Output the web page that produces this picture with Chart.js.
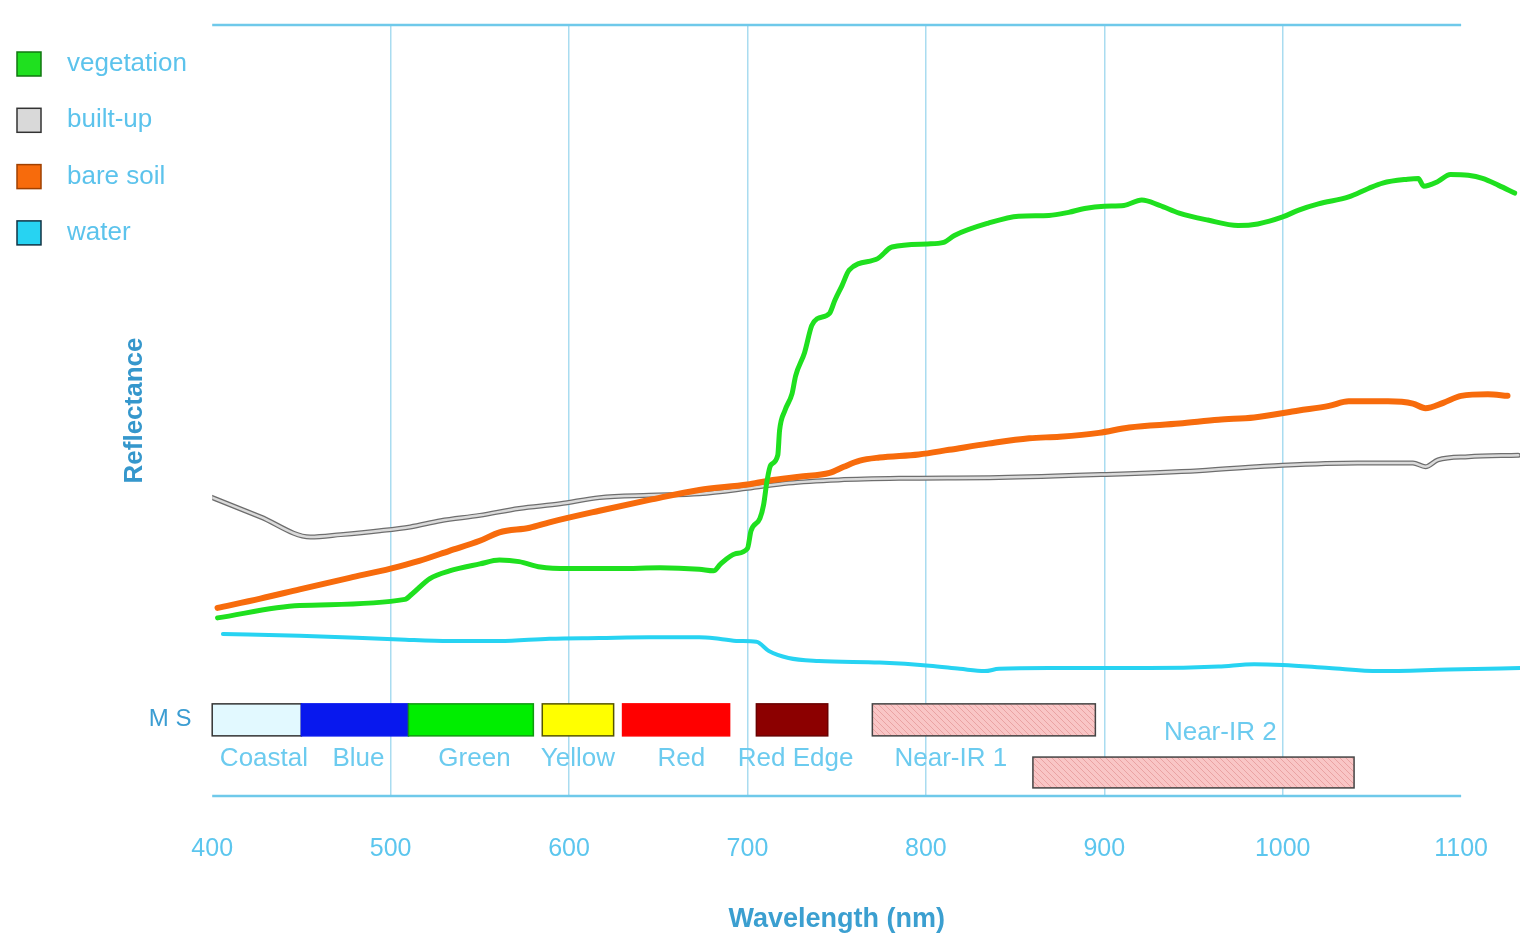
<!DOCTYPE html>
<html lang="en">
<head>
  <meta charset="UTF-8" />
  <title>Spectral reflectance and MS bands</title>
  <style>
    html, body { margin: 0; padding: 0; background: #ffffff; overflow: hidden; }
    #wrap { width: 1526px; height: 936px; position: relative; }
  </style>
</head>
<body>
  <div id="wrap"><canvas id="chart"></canvas></div>

  <script src="https://cdn.jsdelivr.net/npm/chart.js"></script>
  <script>
    // wavelength ticks (nm)
    const xTicks = [400, 500, 600, 700, 800, 900, 1000, 1100];

    // curves: wavelength (nm) and reflectance (relative, 0-100)
    const vegNm = [403, 449, 508, 512, 522, 533, 550, 561, 572, 584, 600, 628, 651, 673, 681, 685, 693, 700, 702, 707,
      709, 711, 713, 717, 718, 721, 725, 727, 732, 736, 739, 746, 749, 753, 757, 773, 781, 801, 810, 816,
      835, 852, 869, 880, 889, 900, 911, 921, 931, 942, 958, 975, 986, 1000, 1009, 1020, 1037, 1048, 1056, 1070,
      1076, 1079, 1087, 1094, 1104, 1112, 1121, 1130];
    const vegVal = [23.1, 24.7, 25.5, 26.2, 28.2, 29.2, 30.1, 30.6, 30.4, 29.7, 29.5, 29.5, 29.6, 29.4, 29.2, 30.1, 31.4, 32.1, 34.4, 36.0,
      37.7, 40.9, 42.9, 44.2, 47.4, 50.0, 52.2, 54.5, 57.5, 61.0, 61.9, 62.6, 64.3, 66.2, 68.2, 69.7, 71.2, 71.6, 71.8, 72.7,
      74.3, 75.2, 75.3, 75.7, 76.2, 76.5, 76.6, 77.3, 76.6, 75.6, 74.7, 74.0, 74.2, 75.1, 76.0, 76.8, 77.7, 78.8, 79.5, 80.0,
      80.1, 79.1, 79.7, 80.6, 80.5, 80.1, 79.2, 78.2];

    const builtNm = [399, 427, 455, 472, 494, 511, 528, 550, 572, 595, 617, 645, 673, 700, 723, 751, 785, 841, 900, 953,
      1000, 1042, 1073, 1080, 1087, 1104, 1132];
    const builtVal = [38.8, 36.2, 33.6, 33.9, 34.4, 34.9, 35.7, 36.4, 37.3, 37.9, 38.7, 39.0, 39.2, 39.9, 40.6, 41.0, 41.2, 41.3, 41.7, 42.2,
      42.9, 43.2, 43.2, 42.7, 43.6, 44.0, 44.2];

    const soilNm = [403, 427, 449, 477, 500, 516, 533, 550, 561, 578, 589, 617, 645, 673, 700, 712, 729, 746, 754, 763,
      774, 796, 813, 835, 858, 875, 897, 914, 942, 964, 984, 1009, 1026, 1037, 1059, 1073, 1080, 1090, 1100, 1115, 1126];
    const soilVal = [24.4, 25.6, 26.8, 28.3, 29.5, 30.5, 31.8, 33.1, 34.2, 34.8, 35.5, 37.0, 38.4, 39.7, 40.4, 40.9, 41.4, 41.9, 42.7, 43.5,
      43.9, 44.3, 44.9, 45.7, 46.4, 46.6, 47.1, 47.8, 48.3, 48.8, 49.1, 50.0, 50.6, 51.2, 51.2, 50.9, 50.3, 51.0, 51.9, 52.1, 51.9];

    const waterNm = [406, 449, 505, 533, 561, 589, 617, 645, 673, 684, 695, 705, 712, 723, 740, 774, 802, 819, 833, 841,
      869, 925, 964, 984, 1000, 1026, 1054, 1093, 1135];
    const waterVal = [21.0, 20.8, 20.3, 20.1, 20.1, 20.4, 20.5, 20.6, 20.6, 20.4, 20.1, 20.0, 18.8, 17.9, 17.5, 17.3, 16.9, 16.5, 16.2, 16.5,
      16.6, 16.6, 16.8, 17.1, 17.0, 16.6, 16.2, 16.4, 16.6];

    // MS bands (nm)
    const bandNames = ['Coastal', 'Blue', 'Green', 'Yellow', 'Red', 'Red Edge', 'Near-IR 1', 'Near-IR 2'];
    const bandStart = [400, 450, 510, 585, 630, 705, 770, 860];
    const bandEnd = [450, 510, 580, 625, 690, 745, 895, 1040];

    // band look / placement
    const bandFill = ['#e2f9ff', '#0818ee', '#00ee00', '#ffff00', '#ff0000', '#8c0000', 'hatch', 'hatch'];
    const bandEdge = ['#333333', '#0818ee', '#119911', '#555500', '#ff0000', '#6a0000', '#444444', '#444444'];
    const bandRow = [0, 0, 0, 0, 0, 0, 0, 1];
    const rowTop = [11.95, 5.05];
    const rowBottom = [7.8, 1.05];
    const labelAt = [429, 482, 547, 605, 663, 727, 814, 965];
    const labelRowY = [4.8, 8.2];

    const toPts = (xs, ys) => xs.map((v, i) => ({ x: v, y: ys[i] }));

    const canvas = document.getElementById('chart');
    const ctx = canvas.getContext('2d');

    // diagonal hatch for the near-IR boxes
    const hatchCanvas = document.createElement('canvas');
    hatchCanvas.width = 6; hatchCanvas.height = 6;
    const hctx = hatchCanvas.getContext('2d');
    hctx.fillStyle = '#f9c6c6';
    hctx.fillRect(0, 0, 6, 6);
    hctx.strokeStyle = '#eaa3a3';
    hctx.lineWidth = 1;
    hctx.beginPath();
    hctx.moveTo(0, 0); hctx.lineTo(6, 6);
    hctx.stroke();
    const hatch = ctx.createPattern(hatchCanvas, 'repeat');

    const FONT = 'Arial, "Liberation Sans", sans-serif';

    const decor = {
      id: 'decor',
      beforeDatasetsDraw(chart) {
        const { ctx, chartArea, scales: { x, y } } = chart;
        ctx.save();
        const x0 = x.getPixelForValue(xTicks[0]);
        const x1 = x.getPixelForValue(xTicks[xTicks.length - 1]);
        ctx.strokeStyle = '#6fc9ea';
        ctx.lineWidth = 2.5;
        ctx.beginPath();
        ctx.moveTo(x0, chartArea.top); ctx.lineTo(x1, chartArea.top);
        ctx.moveTo(x0, chartArea.bottom); ctx.lineTo(x1, chartArea.bottom);
        ctx.stroke();

        // band boxes
        bandNames.forEach((name, i) => {
          const left = x.getPixelForValue(bandStart[i]);
          const right = x.getPixelForValue(bandEnd[i]);
          const top = y.getPixelForValue(rowTop[bandRow[i]]);
          const bottom = y.getPixelForValue(rowBottom[bandRow[i]]);
          ctx.fillStyle = bandFill[i] === 'hatch' ? hatch : bandFill[i];
          ctx.fillRect(left, top, right - left, bottom - top);
          ctx.strokeStyle = bandEdge[i];
          ctx.lineWidth = 1.5;
          ctx.strokeRect(left, top, right - left, bottom - top);

          ctx.fillStyle = '#6ccbef';
          ctx.font = '26px ' + FONT;
          ctx.textAlign = 'center';
          ctx.textBaseline = 'middle';
          const ly = y.getPixelForValue(labelRowY[bandRow[i]]);
          ctx.fillText(name, x.getPixelForValue(labelAt[i]), ly);
        });

        // MS row label
        ctx.fillStyle = '#3b9dd2';
        ctx.font = '24px ' + FONT;
        ctx.textAlign = 'center';
        ctx.fillText('M S', x.getPixelForValue(bandStart[0]) - 42, y.getPixelForValue((rowTop[0] + rowBottom[0]) / 2));
        ctx.restore();
      },
      afterDraw(chart) {
        const { ctx, scales: { x } } = chart;
        ctx.save();
        // x axis title, centred on the 400-1100 span
        ctx.fillStyle = '#3b9fd0';
        ctx.font = 'bold 27px ' + FONT;
        ctx.textAlign = 'center';
        ctx.textBaseline = 'middle';
        const cx = (x.getPixelForValue(xTicks[0]) + x.getPixelForValue(xTicks[xTicks.length - 1])) / 2;
        ctx.fillText('Wavelength (nm)', cx, 920);

        // legend
        const items = chart.data.datasets.filter(d => !d.hideInLegend);
        items.forEach((d, i) => {
          const cy = 64 + i * 56.3;
          ctx.fillStyle = d.legendFill || d.borderColor;
          ctx.fillRect(17, cy - 12, 24, 24);
          ctx.strokeStyle = d.legendEdge;
          ctx.lineWidth = 1.5;
          ctx.strokeRect(17, cy - 12, 24, 24);
          ctx.fillStyle = '#5cc3ec';
          ctx.font = '26px ' + FONT;
          ctx.textAlign = 'left';
          ctx.fillText(d.label, 67, cy);
        });
        ctx.restore();
      }
    };

    new Chart(ctx, {
      type: 'line',
      data: {
        datasets: [
          {
            label: 'vegetation', data: toPts(vegNm, vegVal),
            borderColor: '#1fe01f', borderWidth: 5, legendEdge: '#117711', order: 1
          },
          {
            label: 'built-up', data: toPts(builtNm, builtVal),
            borderColor: '#dadada', borderWidth: 2.5, legendFill: '#d9d9d9', legendEdge: '#333333', order: 3
          },
          {
            label: 'bare soil', data: toPts(soilNm, soilVal),
            borderColor: '#f76b0c', borderWidth: 6, legendEdge: '#a04000', order: 2
          },
          {
            label: 'water', data: toPts(waterNm, waterVal),
            borderColor: '#27d3f2', borderWidth: 4, legendEdge: '#113344', order: 2
          },
          {
            label: 'built-up outline', hideInLegend: true, data: toPts(builtNm, builtVal),
            borderColor: '#6e6e6e', borderWidth: 5, order: 4
          }
        ]
      },
      options: {
        responsive: true,
        maintainAspectRatio: false,
        animation: false,
        layout: { padding: { top: 25, right: 0, bottom: 34, left: 115 } },
        elements: {
          point: { radius: 0 },
          line: { cubicInterpolationMode: 'monotone', borderCapStyle: 'round', borderJoinStyle: 'round' }
        },
        plugins: {
          legend: { display: false },
          tooltip: { enabled: false }
        },
        scales: {
          x: {
            type: 'linear',
            min: 400,
            max: 1133,
            afterBuildTicks: scale => { scale.ticks = xTicks.map(v => ({ value: v })); },
            border: { display: false },
            grid: {
              drawTicks: false,
              lineWidth: 1.5,
              color: c => (c.tick && (c.tick.value === 400 || c.tick.value === 1100)) ? 'rgba(0,0,0,0)' : '#a9dcf0'
            },
            ticks: {
              padding: 38,
              color: '#5cc6ee',
              font: { family: FONT, size: 25 },
              maxRotation: 0,
              autoSkip: false,
              callback: v => String(v)
            }
          },
          y: {
            min: 0,
            max: 100,
            border: { display: false },
            grid: { display: false, drawTicks: false },
            ticks: { display: false },
            title: {
              display: true,
              text: 'Reflectance',
              color: '#3597cc',
              font: { family: FONT, size: 26, weight: 'bold' },
              padding: { top: 4, bottom: 62 }
            }
          }
        }
      },
      plugins: [decor]
    });
  </script>
</body>
</html>
